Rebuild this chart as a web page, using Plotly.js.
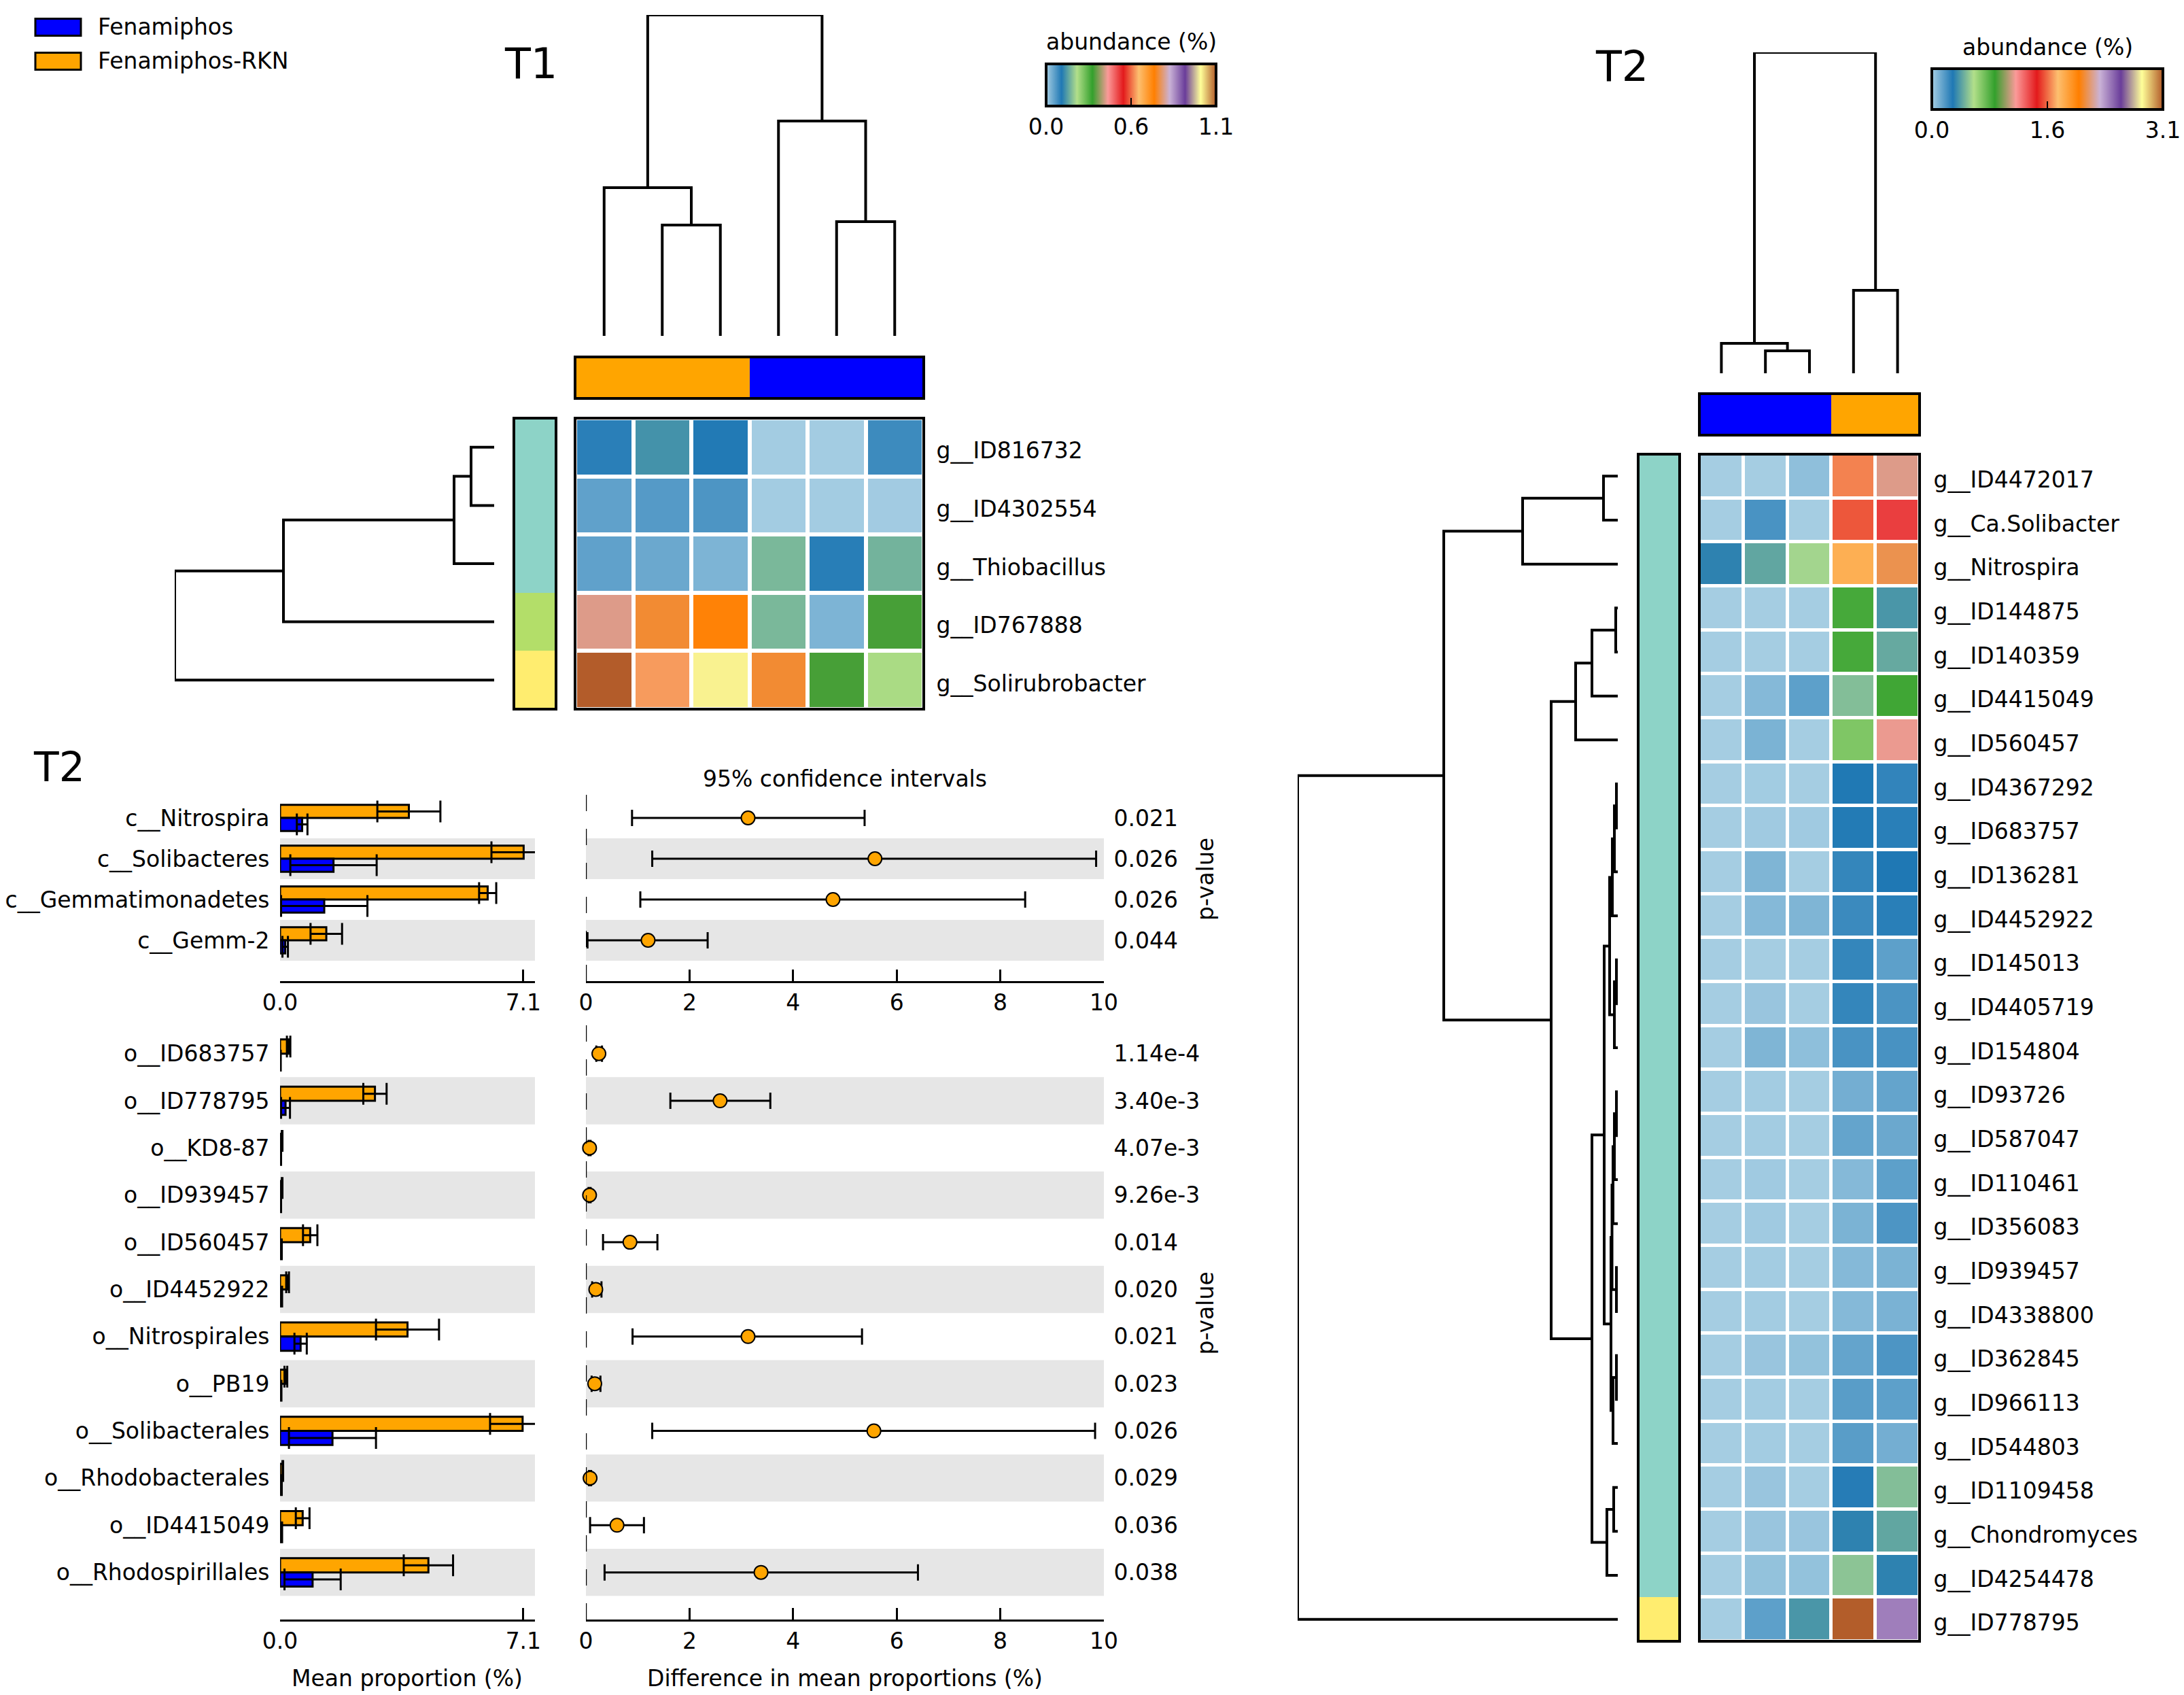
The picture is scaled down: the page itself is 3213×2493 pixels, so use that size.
<!DOCTYPE html>
<html><head><meta charset="utf-8">
<script src="https://cdn.plot.ly/plotly-3.0.1.min.js"></script>
<style>html,body{margin:0;padding:0;background:#fff}#chart{width:3213px;height:2493px}</style>
</head><body><div id="chart"></div>
<script>
const W = 3213, H = 2493;
const FONT = 'DejaVu Sans, sans-serif';

// ---------------- DATA ----------------
const groupNames = ['Fenamiphos', 'Fenamiphos-RKN'];
const groupColors = ['#0000FF', '#FFA500'];
const clusterColors = ['#8DD3C7', '#B3DE69', '#FFED6F'];
const pairedColors = ['#a6cee3','#1f78b4','#b2df8a','#33a02c','#fb9a99','#e31a1c','#fdbf6f','#ff7f00','#cab2d6','#6a3d9a','#ffff99','#b15928'];

// T1 heatmap
const t1Rows = ['g__ID816732','g__ID4302554','g__Thiobacillus','g__ID767888','g__Solirubrobacter'];
const t1ColGroups = [1,1,1,0,0,0];
const t1RowClusters = [0,0,0,1,2];
const t1Values = [
  [0.092,0.125,0.098,0.002,0.002,0.078],
  [0.052,0.060,0.066,0.002,0.002,0.003],
  [0.052,0.044,0.030,0.162,0.093,0.157],
  [0.385,0.724,0.695,0.162,0.030,0.310],
  [1.098,0.578,1.008,0.724,0.310,0.206]
];
const t1Max = 1.1;
const t1Ticks = [0, 0.55, 1.1];
const t1TickText = ['0.0','0.6','1.1'];
const t1ColLinkage = [[1,2,163],[0,6,218],[4,5,168],[3,8,316],[7,9,472]];
const t1RowLinkage = [[0,1,34],[5,2,59],[6,3,310],[7,4,470]];

// T2 heatmap
const t2Rows = ['g__ID4472017','g__Ca.Solibacter','g__Nitrospira','g__ID144875','g__ID140359','g__ID4415049','g__ID560457','g__ID4367292','g__ID683757','g__ID136281','g__ID4452922','g__ID145013','g__ID4405719','g__ID154804','g__ID93726','g__ID587047','g__ID110461','g__ID356083','g__ID939457','g__ID4338800','g__ID362845','g__ID966113','g__ID544803','g__ID1109458','g__Chondromyces','g__ID4254478','g__ID778795'];
const t2ColGroups = [0,0,0,1,1];
const t2RowClusters = [0,0,0,0,0,0,0,0,0,0,0,0,0,0,0,0,0,0,0,0,0,0,0,0,0,0,2];
const t2Values = [
  [0.003,0.003,0.048,1.587,1.085],
  [0.003,0.194,0.003,1.513,1.330],
  [0.310,0.409,0.535,1.761,2.077],
  [0.003,0.003,0.003,0.803,0.364],
  [0.003,0.003,0.003,0.803,0.417],
  [0.003,0.068,0.152,0.473,0.817],
  [0.003,0.090,0.003,0.676,1.105],
  [0.003,0.008,0.003,0.280,0.242],
  [0.003,0.012,0.012,0.273,0.260],
  [0.003,0.082,0.003,0.237,0.282],
  [0.003,0.068,0.082,0.223,0.260],
  [0.003,0.003,0.003,0.237,0.152],
  [0.003,0.028,0.003,0.237,0.190],
  [0.003,0.082,0.050,0.194,0.196],
  [0.003,0.006,0.003,0.104,0.138],
  [0.003,0.006,0.003,0.138,0.124],
  [0.003,0.012,0.003,0.068,0.152],
  [0.003,0.012,0.003,0.090,0.186],
  [0.003,0.006,0.003,0.068,0.090],
  [0.003,0.006,0.003,0.068,0.092],
  [0.003,0.028,0.040,0.138,0.186],
  [0.003,0.006,0.003,0.160,0.152],
  [0.003,0.006,0.003,0.160,0.104],
  [0.003,0.028,0.003,0.268,0.473],
  [0.003,0.028,0.028,0.310,0.409],
  [0.003,0.040,0.040,0.490,0.310],
  [0.003,0.152,0.364,3.094,2.381]
];
const t2Max = 3.1;
const t2Ticks = [0, 1.55, 3.1];
const t2TickText = ['0.0','1.6','3.1'];
const t2ColLinkage = [[1,2,33],[0,5,44],[3,4,122],[6,7,472]];
const t2RowLinkage = [
  [0,1,21],[27,2,140],[3,4,3],[29,5,38],[30,6,62],
  [7,8,2],[32,9,5],[33,10,8],[11,12,2],[35,13,5],[34,36,12],
  [14,15,2],[38,16,5],[39,17,7],[18,19,2],[40,41,8.5],[20,21,2],[43,22,7],[42,44,10],[37,45,20],
  [23,24,6],[47,25,16],[46,48,38],[31,49,98],[28,50,256],[51,26,471]
];

// Extended error bar plots (T2)
const classNames = ['c__Nitrospira','c__Solibacteres','c__Gemmatimonadetes','c__Gemm-2'];
const classRKN = [3.76,7.11,6.06,1.35];
const classRKNerr = [0.92,0.94,0.25,0.46];
const classFen = [0.645,1.56,1.29,0.15];
const classFenErr = [0.155,1.26,1.26,0.08];
const classDiff = [3.13,5.58,4.77,1.20];
const classLo = [0.89,1.28,1.05,0.03];
const classHi = [5.38,9.85,8.48,2.35];
const classP = ['0.021','0.026','0.026','0.044'];

const orderNames = ['o__ID683757','o__ID778795','o__KD8-87','o__ID939457','o__ID560457','o__ID4452922','o__Nitrospirales','o__PB19','o__Solibacterales','o__Rhodobacterales','o__ID4415049','o__Rhodospirillales'];
const orderRKN = [0.25,2.77,0.06,0.06,0.88,0.22,3.72,0.17,7.08,0.08,0.66,4.33];
const orderRKNerr = [0.05,0.34,0.01,0.01,0.21,0.04,0.92,0.04,0.95,0.01,0.20,0.72];
const orderFen = [0.01,0.16,0.02,0.02,0.04,0.04,0.60,0.03,1.53,0.04,0.04,0.95];
const orderFenErr = [0.01,0.13,0.01,0.01,0.01,0.02,0.18,0.01,1.27,0.01,0.02,0.82];
const orderDiff = [0.25,2.59,0.07,0.07,0.85,0.19,3.13,0.17,5.56,0.08,0.60,3.38];
const orderLo = [0.20,1.63,0.05,0.05,0.33,0.12,0.90,0.11,1.28,0.06,0.08,0.36];
const orderHi = [0.31,3.56,0.09,0.09,1.38,0.30,5.33,0.28,9.83,0.10,1.12,6.41];
const orderP = ['1.14e-4','3.40e-3','4.07e-3','9.26e-3','0.014','0.020','0.021','0.023','0.026','0.029','0.036','0.038'];

const propTicks = [0, 7.1];
const propTickText = ['0.0','7.1'];
const diffTicks = [0,2,4,6,8,10];

// ---------------- HELPERS ----------------
const X = px => px / W;
const Y = py => 1 - py / H;
const domX = (a,b) => [X(a), X(b)];
const domY = (top,bottom) => [Y(bottom), Y(top)];
const idx = n => Array.from({length:n}, (_,i)=>i);

function dendro(link, n){
  const pos = [], ht = [];
  for (let i=0;i<n;i++){ pos[i]=i; ht[i]=0; }
  const P = [], Hh = [];
  link.forEach((m,k)=>{
    const [i,j,h] = m;
    P.push(pos[i],pos[i],pos[j],pos[j],null);
    Hh.push(ht[i],h,h,ht[j],null);
    pos[n+k] = (pos[i]+pos[j])/2; ht[n+k] = h;
  });
  return {p:P, h:Hh};
}
const pairedScale = pairedColors.map((c,i)=>[i/(pairedColors.length-1), c]);
const groupScale = [[0,groupColors[0]],[1,groupColors[1]]];
const clusterScale = clusterColors.map((c,i)=>[i/(clusterColors.length-1), c]);

function hid(domain, range, anchor){ return {domain, range, anchor, visible:false, fixedrange:true}; }

const layout = {
  width:W, height:H, margin:{l:0,r:0,t:0,b:0},
  paper_bgcolor:'#ffffff', plot_bgcolor:'rgba(0,0,0,0)',
  showlegend:false, barmode:'overlay',
  font:{family:FONT, size:33, color:'#000'},
  shapes:[], annotations:[]
};
const traces = [];
const lineStyle = {color:'#000', width:4};

function labelAxis(domain, range, anchor, vals, text, side, len, shift){
  const a = {domain, range, anchor, side, tickmode:'array', tickvals:vals, ticktext:text,
    ticks:'outside', ticklen:len, tickcolor:'rgba(0,0,0,0)', showline:false, showgrid:false,
    zeroline:false, tickfont:{family:FONT,size:33,color:'#000'}, fixedrange:true};
  if (shift) a.ticklabelshift = shift;
  return a;
}
function valueAxis(domain, range, anchor, vals, text){
  return {domain, range, anchor, tickmode:'array', tickvals:vals, ticktext:text,
    ticks:'inside', ticklen:17, tickwidth:3, tickcolor:'#000', showline:true, linecolor:'#000',
    linewidth:3, showgrid:false, zeroline:false, tickfont:{family:FONT,size:33,color:'#000'}, fixedrange:true};
}
function border(xa, ya, w){
  layout.shapes.push({type:'rect', xref:xa+' domain', yref:ya+' domain', x0:0,x1:1,y0:0,y1:1,
    line:{color:'#000', width:w}, fillcolor:'rgba(0,0,0,0)', layer:'above'});
}
function ann(text, px, py, size, extra){
  layout.annotations.push(Object.assign({text, x:X(px), y:Y(py), xref:'paper', yref:'paper', showarrow:false,
    xanchor:'center', yanchor:'middle', font:{family:FONT, size:size, color:'#000'}}, extra||{}));
}

// ---------------- HEATMAP BLOCK ----------------
function heatBlock(cfg){
  const nR = cfg.rows.length, nC = cfg.colGroups.length;
  const ax = cfg.axes; // [top dendro, colbar, heat, rowbar, left dendro]
  const cr = [-0.5, nC-0.5], rr = [nR-0.5, -0.5];
  // top dendrogram
  layout['xaxis'+ax[0]] = hid(domX(...cfg.heatX), cr, 'y'+ax[0]);
  layout['yaxis'+ax[0]] = hid(domY(...cfg.topDendroY), [0, cfg.colLink[cfg.colLink.length-1][2]], 'x'+ax[0]);
  const dc = dendro(cfg.colLink, nC);
  traces.push({type:'scatter', mode:'lines', x:dc.p, y:dc.h, xaxis:'x'+ax[0], yaxis:'y'+ax[0], line:lineStyle, cliponaxis:false, hoverinfo:'skip', connectgaps:false});
  // column group bar
  layout['xaxis'+ax[1]] = hid(domX(...cfg.heatX), cr, 'y'+ax[1]);
  layout['yaxis'+ax[1]] = hid(domY(...cfg.colBarY), [-0.5,0.5], 'x'+ax[1]);
  traces.push({type:'heatmap', z:[cfg.colGroups], x:idx(nC), y:[0], xaxis:'x'+ax[1], yaxis:'y'+ax[1], colorscale:groupScale, zmin:0, zmax:1, showscale:false, hoverinfo:'skip'});
  border('x'+ax[1], 'y'+ax[1], 4);
  // heatmap
  layout['xaxis'+ax[2]] = hid(domX(...cfg.heatX), cr, 'y'+ax[2]);
  layout['yaxis'+ax[2]] = labelAxis(domY(...cfg.heatY), rr, 'x'+ax[2], idx(nR), cfg.rows, 'right', cfg.labLen, -5);
  traces.push({type:'heatmap', z:cfg.values, x:idx(nC), y:idx(nR), xaxis:'x'+ax[2], yaxis:'y'+ax[2],
    colorscale:pairedScale, zmin:0, zmax:cfg.zmax, xgap:cfg.gap, ygap:cfg.gap, hoverinfo:'skip',
    showscale:true,
    colorbar:{orientation:'h', thicknessmode:'pixels', thickness:cfg.cb.th, lenmode:'pixels', len:cfg.cb.len,
      x:X(cfg.cb.cx), xanchor:'center', y:Y(cfg.cb.top), yanchor:'top', xpad:0, ypad:0,
      outlinewidth:4, outlinecolor:'#000', tickmode:'array', tickvals:cfg.cb.ticks, ticktext:cfg.cb.text,
      ticks:'inside', ticklen:14, tickwidth:2, tickcolor:'#000',
      tickfont:{family:FONT,size:33,color:'#000'}}
  });
  ann('abundance (%)', cfg.cb.cx, cfg.cb.titleY, 33);
  border('x'+ax[2], 'y'+ax[2], 4);
  // row cluster bar
  layout['xaxis'+ax[3]] = hid(domX(...cfg.rowBarX), [-0.5,0.5], 'y'+ax[3]);
  layout['yaxis'+ax[3]] = hid(domY(...cfg.heatY), rr, 'x'+ax[3]);
  traces.push({type:'heatmap', z:cfg.rowClusters.map(c=>[c]), x:[0], y:idx(nR), xaxis:'x'+ax[3], yaxis:'y'+ax[3], colorscale:clusterScale, zmin:0, zmax:clusterColors.length-1, showscale:false, hoverinfo:'skip'});
  border('x'+ax[3], 'y'+ax[3], 4);
  // left dendrogram
  layout['xaxis'+ax[4]] = hid(domX(...cfg.leftDendroX), [cfg.rowLink[cfg.rowLink.length-1][2], 0], 'y'+ax[4]);
  layout['yaxis'+ax[4]] = hid(domY(...cfg.heatY), rr, 'x'+ax[4]);
  const dr = dendro(cfg.rowLink, nR);
  traces.push({type:'scatter', mode:'lines', x:dr.h, y:dr.p, xaxis:'x'+ax[4], yaxis:'y'+ax[4], line:lineStyle, cliponaxis:false, hoverinfo:'skip', connectgaps:false});
}

heatBlock({rows:t1Rows, colGroups:t1ColGroups, rowClusters:t1RowClusters, values:t1Values, zmax:t1Max,
  colLink:t1ColLinkage, rowLink:t1RowLinkage, axes:['',2,3,4,5],
  heatX:[846,1359], heatY:[615,1043], topDendroY:[22,494], colBarY:[525,586], rowBarX:[756,818], leftDendroX:[257,727],
  gap:6, labLen:11,
  cb:{th:62, len:250, cx:1664, top:94, titleY:61, ticks:t1Ticks, text:t1TickText}});

heatBlock({rows:t2Rows, colGroups:t2ColGroups, rowClusters:t2RowClusters, values:t2Values, zmax:t2Max,
  colLink:t2ColLinkage, rowLink:t2RowLinkage, axes:[6,7,8,9,10],
  heatX:[2500,2824], heatY:[668,2414], topDendroY:[77,549], colBarY:[579,640], rowBarX:[2410,2471], leftDendroX:[1909,2380],
  gap:5, labLen:13,
  cb:{th:60, len:340, cx:3012, top:101, titleY:70, ticks:t2Ticks, text:t2TickText}});

// ---------------- EXTENDED ERROR BAR BLOCK ----------------
function errBlock(cfg){
  const n = cfg.names.length;
  const [bx, cx] = cfg.axes;
  const yr = [n-0.5+cfg.extra, -0.5];
  const yd = domY(cfg.top, cfg.bottom);
  layout['xaxis'+bx] = valueAxis(domX(412,787), [0,7.44], 'y'+bx, propTicks, propTickText);
  layout['yaxis'+bx] = labelAxis(yd, yr, 'x'+bx, idx(n), cfg.names, 'left', 8);
  layout['xaxis'+cx] = valueAxis(domX(862,1624), [0,10], 'y'+cx, diffTicks, diffTicks.map(String));
  layout['yaxis'+cx] = labelAxis(yd, yr, 'x'+cx, idx(n), cfg.p, 'right', 7);
  const w = cfg.bw;
  traces.push({type:'bar', orientation:'h', x:cfg.rkn, y:idx(n), width:w, offset:-w, xaxis:'x'+bx, yaxis:'y'+bx,
    marker:{color:groupColors[1], line:{color:'#000', width:3}},
    error_x:{type:'data', array:cfg.rknErr, visible:true, color:'#000', thickness:3, width:16}, hoverinfo:'skip'});
  traces.push({type:'bar', orientation:'h', x:cfg.fen, y:idx(n), width:w, offset:0, xaxis:'x'+bx, yaxis:'y'+bx,
    marker:{color:groupColors[0], line:{color:'#000', width:3}},
    error_x:{type:'data', array:cfg.fenErr, visible:true, color:'#000', thickness:3, width:16}, hoverinfo:'skip'});
  traces.push({type:'scatter', mode:'markers', x:cfg.diff, y:idx(n), xaxis:'x'+cx, yaxis:'y'+cx, cliponaxis:false,
    marker:{size:20, color:groupColors[1], line:{color:'#000', width:2}},
    error_x:{type:'data', symmetric:false, array:cfg.hi.map((h,i)=>h-cfg.diff[i]), arrayminus:cfg.diff.map((d,i)=>d-cfg.lo[i]),
      visible:true, color:'#000', thickness:3, width:12}, hoverinfo:'skip'});
  for (let i=1;i<n;i+=2){
    [bx,cx].forEach(a=>layout.shapes.push({type:'rect', xref:'x'+a+' domain', yref:'y'+a, x0:0, x1:1, y0:i-0.5, y1:i+0.5,
      fillcolor:'#E6E6E6', line:{width:0}, layer:'below'}));
  }
  layout.shapes.push({type:'line', xref:'x'+cx, yref:'y'+cx+' domain', x0:0, x1:0, y0:0, y1:1.02,
    line:{color:'#000', width:2.5, dash:'24px,26px'}, layer:'above'});
  ann('p-value', 1773, (cfg.top+cfg.top+n*cfg.rowPx)/2, 33, {textangle:-90});
}
errBlock({names:classNames, rkn:classRKN, rknErr:classRKNerr, fen:classFen, fenErr:classFenErr,
  diff:classDiff, lo:classLo, hi:classHi, p:classP, axes:[11,12], top:1173, bottom:1443, extra:0.5, bw:0.32, rowPx:60});
errBlock({names:orderNames, rkn:orderRKN, rknErr:orderRKNerr, fen:orderFen, fenErr:orderFenErr,
  diff:orderDiff, lo:orderLo, hi:orderHi, p:orderP, axes:[13,14], top:1515, bottom:2382, extra:0.5, bw:0.30, rowPx:69.4});

// ---------------- TEXT & LEGEND ----------------
ann('T1', 781, 93, 62);
ann('T2', 2386, 97, 62);
ann('T2', 87, 1128, 60);
ann('95% confidence intervals', 1243, 1145, 33);
ann('Mean proportion (%)', 599, 2468, 33);
ann('Difference in mean proportions (%)', 1243, 2468, 33);

groupNames.forEach((g,i)=>{
  const cy = 40 + i*50;
  layout.shapes.push({type:'rect', xref:'paper', yref:'paper', x0:X(52), x1:X(119), y0:Y(cy+12.5), y1:Y(cy-12.5),
    fillcolor:groupColors[i], line:{color:'#000', width:3}});
  ann(g, 142, cy, 33, {xanchor:'left'});
});

Plotly.newPlot('chart', traces, layout, {staticPlot:true, displayModeBar:false});
</script>
</body></html>
